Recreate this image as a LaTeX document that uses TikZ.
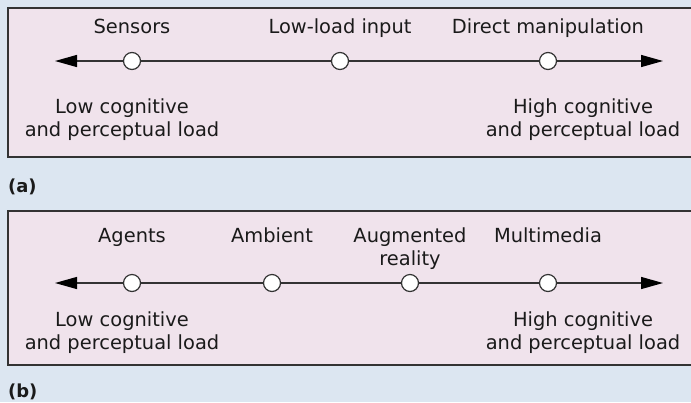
\documentclass[tikz,border=0pt]{standalone}
\usepackage{fontspec}
\setmainfont{DejaVu Sans}
\usetikzlibrary{arrows.meta}
\definecolor{bg}{HTML}{DCE6F1}
\definecolor{boxfill}{HTML}{F0E3EC}
\definecolor{ink}{HTML}{333333}
\definecolor{txt}{HTML}{1A1A1A}
\begin{document}
\begin{tikzpicture}[x=1bp,y=-1bp,
  panelfill/.style={fill=boxfill},
  panelline/.style={draw=ink, line width=1.3bp},
  dot/.style={circle, draw=ink, fill=white, line width=1.2bp, minimum size=17bp, inner sep=0pt},
  lbl/.style={font=\fontsize{19.5}{23.5}\selectfont, text=txt, inner sep=0pt, anchor=base},
  tag/.style={font=\fontsize{18}{22}\selectfont\bfseries, text=txt, inner sep=0pt, anchor=base west},
  axis/.style={draw=ink, line width=1.3bp,
    {Triangle[length=22bp,width=12bp,color=black,fill=black]}-{Triangle[length=22bp,width=12bp,color=black,fill=black]}}
]
\fill[bg] (0,0) rectangle (691,402);
\useasboundingbox (0,0) rectangle (691,402);

% panel (a)
\fill[panelfill] (8,8) rectangle (691,157);
\draw[panelline] (691,8) -- (8,8) -- (8,157) -- (691,157);
\coordinate (aL) at (55,61);
\coordinate (aR) at (663,61);
\draw[axis] (aL) -- (aR);
\node[dot] (a1) at (132,61) {};
\node[dot] (a2) at (340,61) {};
\node[dot] (a3) at (548,61) {};
\node[lbl] (ta1) at (132,33) {Sensors};
\node[lbl] (ta2) at (340,33) {Low-load input};
\node[lbl] (ta3) at (548,33) {Direct manipulation};
\node[lbl] (alow1) at (122,113) {Low cognitive};
\node[lbl] (alow2) at (122,136) {and perceptual load};
\node[lbl] (ahigh1) at (583,113) {High cognitive};
\node[lbl] (ahigh2) at (583,136) {and perceptual load};
\node[tag] (tagA) at (8,192) {(a)};

% panel (b)
\fill[panelfill] (8,211) rectangle (691,365);
\draw[panelline] (691,211) -- (8,211) -- (8,365) -- (691,365);
\coordinate (bL) at (55,283);
\coordinate (bR) at (663,283);
\draw[axis] (bL) -- (bR);
\node[dot] (b1) at (132,283) {};
\node[dot] (b2) at (272,283) {};
\node[dot] (b3) at (410,283) {};
\node[dot] (b4) at (548,283) {};
\node[lbl] (tb1) at (132,242) {Agents};
\node[lbl] (tb2) at (272,242) {Ambient};
\node[lbl] (tb3a) at (410,242) {Augmented};
\node[lbl] (tb3b) at (410,265) {reality};
\node[lbl] (tb4) at (548,242) {Multimedia};
\node[lbl] (blow1) at (122,326) {Low cognitive};
\node[lbl] (blow2) at (122,349) {and perceptual load};
\node[lbl] (bhigh1) at (583,326) {High cognitive};
\node[lbl] (bhigh2) at (583,349) {and perceptual load};
\node[tag] (tagB) at (8,397) {(b)};
\end{tikzpicture}
\end{document}
